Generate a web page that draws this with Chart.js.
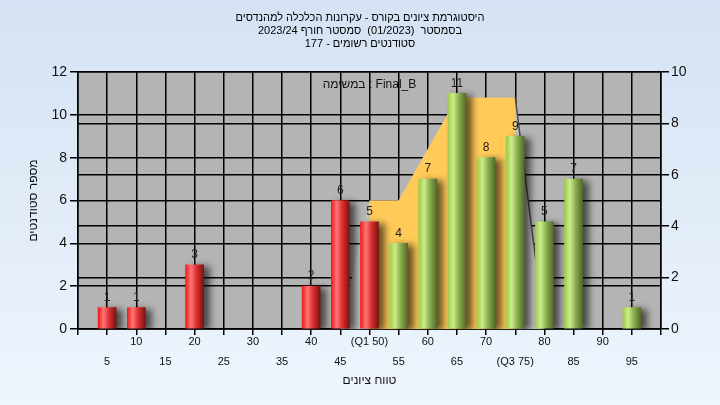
<!DOCTYPE html>
<html>
<head>
<meta charset="utf-8">
<script src="https://cdn.jsdelivr.net/npm/chart.js@4"></script>
<style>
html, body { margin: 0; padding: 0; }
body { width: 720px; height: 405px; background: linear-gradient(#d4e2f3, #eef5fd); }
#wrap { width: 720px; height: 405px; }
</style>
</head>
<body>
<div id="wrap"><canvas id="histChart" width="720" height="405"></canvas></div>
<script>
// grade ranges and number of students per range
const grades = [5, 10, 15, 20, 25, 30, 35, 40, 45, 50, 55, 60, 65, 70, 75, 80, 85, 90, 95];
const counts = [1, 1, 0, 3, 0, 0, 0, 2, 6, 5, 4, 7, 11, 8, 9, 5, 7, 0, 1];
const passGrade = 55;

// quartile band (right axis)
const bandX = [50, 50, 55, 65, 75, 75];
const bandY = [0, 5, 5, 9, 9, 0];
const edgeX = [45, 50, 55, 65, 75, 80];
const edgeY = [0, 5, 5, 9, 9, 0];
const dropX = [75, 80];
const dropY = [9, 0];

const quartileGrades = [50, 75];
const quartileNames = ['Q1', 'Q3'];

const leftTicks = [0, 12, 2];
const rightTicks = [0, 10, 2];

const titleLines = [
  'היסטוגרמת ציונים בקורס - עקרונות הכלכלה למהנדסים',
  'בסמסטר  (01/2023)  סמסטר חורף 2023/24',
  'סטודנטים רשומים - 177'
];
const taskLabel = 'במשימה : Final_B';
const xTitle = 'טווח ציונים';
const yTitle = 'מספר סטודנטים';

const FONT = 'Liberation Sans, Arial, sans-serif';

const points = (xs, ys) => xs.map((x, i) => ({ x: x, y: ys[i] }));

const barFill = (c) => {
  const chart = c.chart;
  if (!chart.chartArea) return '#dd2222';
  const g = grades[c.dataIndex];
  const cx = chart.scales.x.getPixelForValue(g);
  const grad = chart.ctx.createLinearGradient(cx - 9, 0, cx + 9, 0);
  if (g < passGrade) {
    grad.addColorStop(0, '#f01c1c');
    grad.addColorStop(0.3, '#ff7676');
    grad.addColorStop(0.6, '#dc2f2f');
    grad.addColorStop(1, '#7c1212');
  } else {
    grad.addColorStop(0, '#9dcc48');
    grad.addColorStop(0.3, '#cdec8c');
    grad.addColorStop(0.6, '#8cb050');
    grad.addColorStop(1, '#53692a');
  }
  return grad;
};

const plotBackground = {
  id: 'plotBackground',
  beforeDraw(chart) {
    const { ctx, chartArea } = chart;
    ctx.save();
    ctx.fillStyle = '#b4b4b4';
    ctx.fillRect(chartArea.left, chartArea.top, chartArea.width, chartArea.height);
    ctx.restore();
  }
};

const barShadow = {
  id: 'barShadow',
  beforeDatasetDraw(chart, args) {
    if (args.index !== 0) return;
    const ctx = chart.ctx;
    ctx.save();
    ctx.shadowColor = 'rgba(0,0,0,0.6)';
    ctx.shadowBlur = 7;
    ctx.shadowOffsetX = 6;
    ctx.shadowOffsetY = 2;
  },
  afterDatasetDraw(chart, args) {
    if (args.index !== 0) return;
    chart.ctx.restore();
  }
};

const valueLabels = {
  id: 'valueLabels',
  afterDatasetsDraw(chart) {
    const { ctx, chartArea } = chart;
    const meta = chart.getDatasetMeta(0);
    ctx.save();
    ctx.font = '12px ' + FONT;
    ctx.fillStyle = '#222';
    ctx.textAlign = 'center';
    ctx.textBaseline = 'middle';
    meta.data.forEach((bar, i) => {
      if (!counts[i]) return;
      ctx.fillText(String(counts[i]), bar.x, bar.y - 10);
    });
    ctx.font = '12px ' + FONT;
    ctx.fillStyle = '#111';
    ctx.fillText(taskLabel, (chartArea.left + chartArea.right) / 2, chartArea.top + 13);
    ctx.restore();
  }
};

const gridBlack = { color: '#000', lineWidth: 1.5, tickColor: '#000', tickLength: 8 };

const histChart = new Chart(document.getElementById('histChart').getContext('2d'), {
  type: 'bar',
  data: {
    datasets: [{
      type: 'bar',
      label: 'students',
      data: grades.map((g, i) => ({ x: g, y: counts[i] || null })),
      backgroundColor: barFill,
      barThickness: 18,
      yAxisID: 'y',
      order: 1
    }, {
      type: 'line',
      label: 'drop',
      data: points(dropX, dropY),
      borderColor: '#4a4a4a',
      borderWidth: 1.5,
      pointRadius: 0,
      fill: false,
      yAxisID: 'y2',
      order: 2
    }, {
      type: 'line',
      label: 'band',
      data: points(bandX, bandY),
      backgroundColor: '#ffca58',
      borderWidth: 0,
      pointRadius: 0,
      fill: 'origin',
      tension: 0,
      yAxisID: 'y2',
      order: 3
    }, {
      type: 'line',
      label: 'edge',
      data: points(edgeX, edgeY),
      backgroundColor: '#c3c3c3',
      borderWidth: 0,
      pointRadius: 0,
      fill: 'origin',
      tension: 0,
      yAxisID: 'y2',
      order: 4
    }]
  },
  options: {
    responsive: false,
    animation: false,
    layout: { padding: 0 },
    plugins: {
      legend: { display: false },
      tooltip: { enabled: false },
      title: {
        display: true,
        text: titleLines,
        color: '#000',
        font: { family: FONT, size: 11, weight: 'normal', lineHeight: '13px' },
        padding: { top: 11, bottom: 22 }
      }
    },
    scales: {
      x: {
        type: 'linear',
        position: 'bottom',
        offset: false,
        min: 0,
        max: 100,
        grid: { color: '#000', lineWidth: 1.5, tickColor: '#000', tickLength: 6, offset: false },
        border: { color: '#000', width: 1.5 },
        ticks: {
          stepSize: 5,
          autoSkip: false,
          maxRotation: 0,
          padding: -3,
          color: '#111',
          font: { family: FONT, size: 11, lineHeight: '20px' },
          callback: (v) => {
            if (v <= 0 || v >= 100) return '';
            const q = quartileGrades.indexOf(v);
            const text = q >= 0 ? '(' + quartileNames[q] + ' ' + v + ')' : String(v);
            return (v / 5) % 2 === 1 ? ['', text] : text;
          }
        },
        title: {
          display: true,
          text: xTitle,
          color: '#111',
          font: { family: FONT, size: 12 },
          padding: { top: 4, bottom: 17 }
        },
        afterFit: (s) => { s.height = 76; }
      },
      y: {
        position: 'left',
        min: leftTicks[0],
        max: leftTicks[1],
        grid: gridBlack,
        border: { color: '#000', width: 1.5 },
        ticks: {
          stepSize: leftTicks[2],
          padding: 3,
          color: '#111',
          font: { family: FONT, size: 14 }
        },
        title: {
          display: true,
          text: yTitle,
          color: '#111',
          font: { family: FONT, size: 12 },
          padding: { top: 26, bottom: 0 }
        },
        afterFit: (s) => { s.width = 78; }
      },
      y2: {
        position: 'right',
        min: rightTicks[0],
        max: rightTicks[1],
        grid: gridBlack,
        border: { color: '#000', width: 1.5 },
        ticks: {
          stepSize: rightTicks[2],
          padding: 2,
          color: '#111',
          font: { family: FONT, size: 14 }
        },
        afterFit: (s) => { s.width = 59; }
      }
    }
  },
  plugins: [plotBackground, barShadow, valueLabels]
});
</script>
</body>
</html>
